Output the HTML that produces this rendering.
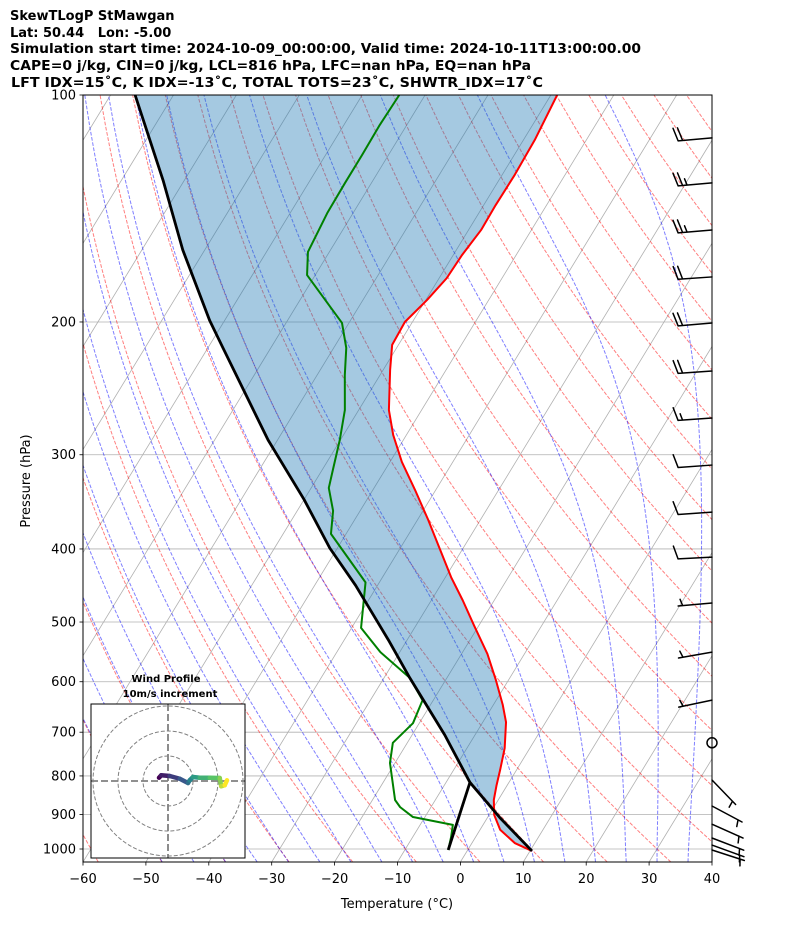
<!DOCTYPE html>
<html><head><meta charset="utf-8"><style>
html,body{margin:0;padding:0;background:#fff}
svg{display:block;font-family:"DejaVu Sans","Liberation Sans",sans-serif}
</style></head><body>
<svg id="chart" width="794" height="937" viewBox="0 0 794 937" xmlns="http://www.w3.org/2000/svg">
<rect width="794" height="937" fill="#fff"/>
<g font-weight="bold" font-size="13" fill="#000">
<text x="10" y="20">SkewTLogP StMawgan</text>
<text x="10" y="37" xml:space="preserve">Lat: 50.44   Lon: -5.00</text>
<text x="10" y="53" textLength="631" lengthAdjust="spacingAndGlyphs">Simulation start time: 2024-10-09_00:00:00, Valid time: 2024-10-11T13:00:00.00</text>
<text x="10" y="70" textLength="521" lengthAdjust="spacingAndGlyphs">CAPE=0 j/kg, CIN=0 j/kg, LCL=816 hPa, LFC=nan hPa, EQ=nan hPa</text>
<text x="11" y="87" textLength="532" lengthAdjust="spacingAndGlyphs">LFT IDX=15˚C, K IDX=-13˚C, TOTAL TOTS=23˚C, SHWTR_IDX=17˚C</text>
</g>
<defs><clipPath id="plotclip"><rect x="83" y="95" width="629" height="767"/></clipPath>
<clipPath id="hodoclip"><rect x="91" y="704" width="154" height="154"/></clipPath></defs>
<g id="bg" clip-path="url(#plotclip)"></g>
<g id="fillg" clip-path="url(#plotclip)"></g>
<g id="profiles" clip-path="url(#plotclip)"></g>
<rect x="83" y="95" width="629" height="767" fill="none" stroke="#000" stroke-width="1"/>
<g id="axes" font-size="13" fill="#000"></g>
<g id="barbs" stroke="#000" stroke-width="1.5" fill="none" stroke-linecap="round"></g>
<g id="hodo"></g>
<text x="397" y="908" font-size="13" text-anchor="middle">Temperature (°C)</text>
<text x="30" y="481" font-size="13" text-anchor="middle" transform="rotate(-90 30 481)">Pressure (hPa)</text>
</svg>
<script>
const tempP=[100,114.7,127.6,140,151,163,175,187,200,214.5,231.5,261.7,282.4,306.7,334,366,401,436,468,505,551,597,644,679,735,786,823,861,901,943,982,1006];
const tempT=[-59.0,-58.2,-58.0,-58.1,-58.0,-58.6,-58.8,-59.8,-61.2,-61.0,-58.9,-55.2,-52.1,-48.1,-43.3,-38.3,-33.5,-29.1,-25.0,-20.8,-15.9,-12.0,-8.5,-6.3,-4.0,-2.6,-1.7,-0.7,0.8,3.2,6.8,10.3];
const dewP=[100,109.6,120.1,130.8,143.4,161.5,173.3,187,200.6,216.5,235.2,261.7,286.8,314.2,332,356,382,443,509,548,593,635,681,723,769,861,880,907,929,964,1003];
const dewT=[-84.1,-84.3,-84.2,-84.2,-84.1,-83.4,-81.3,-76.0,-71.1,-68.0,-65.6,-62.2,-60.1,-58.3,-57.2,-54.3,-52.4,-42.2,-38.5,-33.1,-25.9,-21.7,-21.0,-22.3,-20.8,-16.4,-14.9,-11.9,-4.8,-3.9,-3.1];
const parcelP=[1006,909,816,706,593,528,447,399,344,286.8,216.5,199,160.5,129.7,100];
const parcelT=[10.3,2.0,-6.2,-14.8,-25.9,-33.0,-43.5,-51.2,-60.0,-71.5,-87.6,-92.4,-103.5,-113.4,-126.1];
const lclLineP=[1003,816];
const lclLineT=[-3.1,-6.2];
const xTicks=[-60,-50,-40,-30,-20,-10,0,10,20,30,40];
const yTicks=[100,200,300,400,500,600,700,800,900,1000];
const barbP=[114,130.8,151,174.3,200.6,232.3,268.2,309.6,357.4,410.1,471.8,548.1,634.6,723,810,877,927,967,988,1003];
const barbSpd=[20,25,25,20,20,20,15,10,10,10,5,5,5,0,5,5,5,5,5,5];
const barbDir=[265,265,265,266,265,266,266,266,266,267,265,260,258,0,136,118,114,111,110,108];
const hodoU=[-3.6,-2.7,0.7,4.7,8.0,8.7,10.0,12.7,16.7,20.7,21.3,22.7,23.6];
const hodoV=[1.3,2.3,2.0,0.9,-0.8,0.3,1.6,1.3,1.3,1.2,-2.1,-1.7,0.3];

const NS='http://www.w3.org/2000/svg';
function mk(tag,attrs,parent){const e=document.createElementNS(NS,tag);for(const k in attrs)e.setAttribute(k,attrs[k]);parent.appendChild(e);return e;}
const yP=p=>95+754*Math.log10(p/100);
const xT=(T,p)=>83+(T+60)*6.29+(862-yP(p))*0.61;
const PBOT=100*Math.pow(10,767/754);
function pathFrom(P,T){return P.map((p,i)=>(i?'L':'M')+xT(T[i],p).toFixed(2)+','+yP(p).toFixed(2)).join('');}

const bg=document.getElementById('bg');
yTicks.forEach(p=>{const l=mk('line',{x1:83,x2:712,y1:yP(p),y2:yP(p),stroke:'#b0b0b0','stroke-width':0.8},bg);

});
for(let T=-170;T<=40;T+=10){const l=mk('line',{x1:xT(T,PBOT),y1:yP(PBOT),x2:xT(T,100),y2:yP(100),stroke:'#b0b0b0','stroke-width':0.8},bg);

}
const ps=[];for(let p=PBOT;p>=99;p-=10)ps.push(p);ps.push(100);
for(let t0=-60;t0<=200;t0+=10){const th=t0+273.15;const Ts=ps.map(p=>th*Math.pow(p/1000,0.2857)-273.15);
const l=mk('path',{d:pathFrom(ps,Ts),fill:'none',stroke:'#ff0000','stroke-opacity':0.5,'stroke-width':1,'stroke-dasharray':'3.7,1.6'},bg);

}
function dTdp(T,p){const Tc=T-273.15;const es=6.112*Math.exp(17.67*Tc/(Tc+243.5));const eps=0.622;const rs=eps*es/(p-es);
const Rd=287.04,Cp=1005.7,Lv=2.501e6;return (1/p)*(Rd*T+Lv*rs)/(Cp+Lv*Lv*rs*eps/(Rd*T*T));}
function moist(t0){let T=t0+273.15;const P=[],TT=[];
let Td=T;for(let pp=1000;pp<PBOT;pp+=2){Td+=dTdp(Td,pp)*2;}
P.push(PBOT);TT.push(Td-273.15);
let Tu=T;P.push(1000);TT.push(T-273.15);
for(let pp=1000;pp>100;pp-=2){Tu-=dTdp(Tu,pp)*2;if((pp-2)%10===0){P.push(pp-2);TT.push(Tu-273.15);}}
return [P,TT];}
for(let t0=-50;t0<=40;t0+=5){const [P,TT]=moist(t0);
const l=mk('path',{d:pathFrom(P,TT),fill:'none',stroke:'#0000ff','stroke-opacity':0.5,'stroke-width':1,'stroke-dasharray':'3.7,1.6'},bg);

}

const fg=document.getElementById('fillg');
let fd=tempP.map((p,i)=>(i?'L':'M')+xT(tempT[i],p).toFixed(2)+','+yP(p).toFixed(2)).join('');
for(let i=0;i<parcelP.length;i++){fd+='L'+xT(parcelT[i],parcelP[i]).toFixed(2)+','+yP(parcelP[i]).toFixed(2);}
const fl=mk('path',{d:fd+'Z',fill:'#1f77b4','fill-opacity':0.4,stroke:'none'},fg);



const pr=document.getElementById('profiles');
const tl=mk('path',{d:pathFrom(tempP,tempT),fill:'none',stroke:'#ff0000','stroke-width':2,'stroke-linejoin':'round'},pr);


const dl=mk('path',{d:pathFrom(dewP,dewT),fill:'none',stroke:'#008000','stroke-width':2,'stroke-linejoin':'round'},pr);


const pl=mk('path',{d:pathFrom(parcelP,parcelT),fill:'none',stroke:'#000','stroke-width':2.8,'stroke-linejoin':'round'},pr);


const ll=mk('path',{d:pathFrom(lclLineP,lclLineT),fill:'none',stroke:'#000','stroke-width':2.8},pr);



const ax=document.getElementById('axes');
xTicks.forEach(t=>{const x=83+(t+60)*6.29;
const tk=mk('line',{x1:x,x2:x,y1:862,y2:865.5,stroke:'#000','stroke-width':0.8},ax);


const tx=mk('text',{x:x,y:883,'text-anchor':'middle'},ax);tx.textContent=(t<0?'\u2212':'')+Math.abs(t);

});
yTicks.forEach(p=>{const y=yP(p);
const tk=mk('line',{x1:79.5,x2:83,y1:y,y2:y,stroke:'#000','stroke-width':0.8},ax);


const tx=mk('text',{x:76,y:y+4.5,'text-anchor':'end'},ax);tx.textContent=p;

});

const bb=document.getElementById('barbs');
barbP.forEach((p,i)=>{const bx=712,by=yP(p);const spd=barbSpd[i];
const g=mk('g',{},bb);


if(spd<2.5){mk('circle',{cx:bx,cy:by,r:5},g);return;}
const a=barbDir[i]*Math.PI/180;const dx=Math.sin(a),dy=-Math.cos(a);const L=34;
const tx=bx+dx*L,ty=by+dy*L;const px=-dy,py=dx;
let d='M'+bx+','+by+'L'+tx.toFixed(2)+','+ty.toFixed(2);
let full=Math.floor(spd/10),half=(spd%10)>=5?1:0;let pos=0;const sp=4.5;
if(full===0&&half)pos=sp;
for(let k=0;k<full;k++){const sx=tx-dx*pos,sy=ty-dy*pos;d+='M'+sx.toFixed(2)+','+sy.toFixed(2)+'l'+(px*13+dx*4).toFixed(2)+','+(py*13+dy*4).toFixed(2);pos+=sp;}
if(half){const sx=tx-dx*pos,sy=ty-dy*pos;d+='M'+sx.toFixed(2)+','+sy.toFixed(2)+'l'+(px*6.5+dx*2).toFixed(2)+','+(py*6.5+dy*2).toFixed(2);}
mk('path',{d:d},g);});

const hg=document.getElementById('hodo');
const ht1=mk('text',{x:166,y:682,'font-size':10,'font-weight':'bold','text-anchor':'middle'},hg);ht1.textContent='Wind Profile';


const ht2=mk('text',{x:170,y:697,'font-size':10,'font-weight':'bold','text-anchor':'middle'},hg);ht2.textContent='10m/s increment';


const hbox=mk('rect',{x:91,y:704,width:154,height:154,fill:'#fff',stroke:'none'},hg);


const hin=mk('g',{'clip-path':'url(#hodoclip)'},hg);
const cx=168,cy=781,sc=2.5;
[10,20,30].forEach(r=>{const c=mk('circle',{cx:cx,cy:cy,r:r*sc,fill:'none',stroke:'#808080','stroke-width':1,'stroke-dasharray':'4,2'},hin);

});
mk('line',{x1:91,x2:245,y1:cy,y2:cy,stroke:'#808080','stroke-width':1.8,'stroke-dasharray':'7,3'},hin);
mk('line',{x1:cx,x2:cx,y1:704,y2:858,stroke:'#808080','stroke-width':1.8,'stroke-dasharray':'7,3'},hin);
const vir=[[68,1,84],[59,82,139],[33,145,140],[94,201,98],[253,231,37]];
function vcol(t){const s=t*(vir.length-1);const i=Math.min(Math.floor(s),vir.length-2);const f=s-i;
return 'rgb('+vir[i].map((c,k)=>Math.round(c+(vir[i+1][k]-c)*f)).join(',')+')';}
for(let i=0;i<hodoU.length-1;i++){const s=mk('line',{x1:cx+hodoU[i]*sc,y1:cy-hodoV[i]*sc,x2:cx+hodoU[i+1]*sc,y2:cy-hodoV[i+1]*sc,stroke:vcol(i/(hodoU.length-2)),'stroke-width':4.5,'stroke-linecap':'round'},hin);

}
mk('rect',{x:91,y:704,width:154,height:154,fill:'none',stroke:'#000','stroke-width':1},hg);
</script>
</body></html>
